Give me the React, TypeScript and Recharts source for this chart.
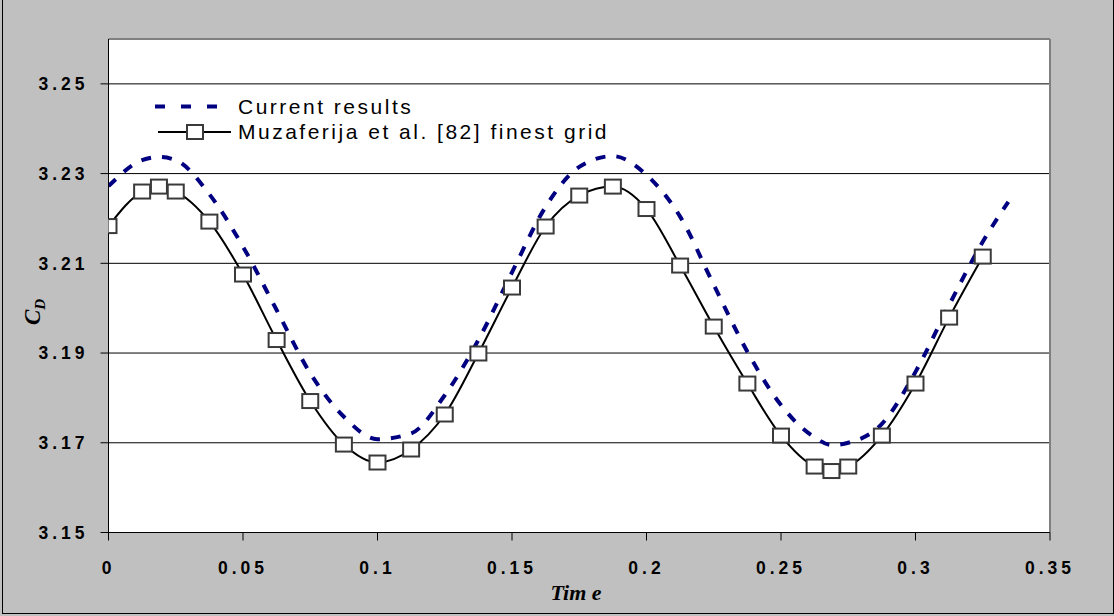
import { LineChart, Line, XAxis, YAxis, CartesianGrid, ReferenceLine } from 'recharts';

// time axis (s) and drag coefficient
const timeCurrent = [0, 0.0125, 0.01875, 0.025, 0.0375, 0.05, 0.0625, 0.075, 0.0875, 0.1, 0.1125, 0.125, 0.1375, 0.15, 0.1625, 0.175, 0.1875, 0.2, 0.2125, 0.225, 0.2375, 0.25, 0.2625, 0.26875, 0.275, 0.2875, 0.3, 0.3125, 0.325, 0.3345];
const cdCurrent = [3.2272, 3.233, 3.2337, 3.233, 3.2254, 3.2137, 3.1996, 3.1855, 3.1758, 3.1708, 3.1721, 3.1806, 3.1929, 3.208, 3.2226, 3.2315, 3.2339, 3.2297, 3.2204, 3.2052, 3.1903, 3.1784, 3.1712, 3.1695, 3.17, 3.1742, 3.1858, 3.2007, 3.2148, 3.2237];

const timeMuzaferija = [0, 0.0125, 0.01875, 0.025, 0.0375, 0.05, 0.0625, 0.075, 0.0875, 0.1, 0.1125, 0.125, 0.1375, 0.15, 0.1625, 0.175, 0.1875, 0.2, 0.2125, 0.225, 0.2375, 0.25, 0.2625, 0.26875, 0.275, 0.2875, 0.3, 0.3125, 0.325];
const cdMuzaferija = [3.2183, 3.226, 3.2271, 3.226, 3.2193, 3.2075, 3.1929, 3.1793, 3.1696, 3.1656, 3.1685, 3.1763, 3.1899, 3.2046, 3.2182, 3.2251, 3.2271, 3.2221, 3.2095, 3.1959, 3.1832, 3.1716, 3.1647, 3.1637, 3.1647, 3.1716, 3.1832, 3.1979, 3.2115];

const xTicks = [0, 0.05, 0.1, 0.15, 0.2, 0.25, 0.3, 0.35];
const yTicks = [3.15, 3.17, 3.19, 3.21, 3.23, 3.25];

const currentData = timeCurrent.map((t, i) => ({ t, cd: cdCurrent[i] }));
const muzData = timeMuzaferija.map((t, i) => ({ t, cd: cdMuzaferija[i] }));

const tickFont = { fontFamily: '"Liberation Sans", Arial, sans-serif', fontSize: 17.5, fontWeight: 700, fill: '#000', letterSpacing: 4 };
const legendFont = { fontFamily: '"Liberation Sans", Arial, sans-serif', fontSize: 21, color: '#000', letterSpacing: 2.5 };
const titleFont = { fontFamily: '"Liberation Serif", "Times New Roman", serif', fontStyle: 'italic' as const, fontWeight: 700 };

const SquareDot = (props: any) => {
  const { cx, cy, index } = props;
  if (cx == null || cy == null) return <g key={index} />;
  return <rect key={index} x={cx - 8} y={cy - 7} width={16} height={14} fill="#fff" stroke="#3a3a3a" strokeWidth={2} />;
};

const LegendBox = () => (
  <div style={{ position: 'absolute', left: 150, top: 94, ...legendFont }}>
    <div style={{ display: 'flex', alignItems: 'center', height: 25 }}>
      <svg width={88} height={25}>
        <line x1={5} x2={67} y1={12.5} y2={12.5} stroke="#000080" strokeWidth={4} strokeDasharray="10 16" />
      </svg>
      <span>Current results</span>
    </div>
    <div style={{ display: 'flex', alignItems: 'center', height: 25 }}>
      <svg width={88} height={25}>
        <line x1={8} x2={81} y1={13} y2={13} stroke="#000" strokeWidth={2} />
        <rect x={37} y={6} width={16} height={14} fill="#fff" stroke="#3a3a3a" strokeWidth={2} />
      </svg>
      <span>Muzaferija et al. [82] finest grid</span>
    </div>
  </div>
);

const AxisTitles = () => (
  <svg width={1114} height={616} style={{ position: 'absolute', left: 0, top: 0, pointerEvents: 'none' }}>
    <text x={576} y={600} textAnchor="middle" fontSize={22} fill="#000" style={{ ...titleFont, whiteSpace: 'pre' }}>
      Tim e
    </text>
    <g transform="translate(40 312) rotate(-90)">
      <text x={0} y={0} textAnchor="middle" fontSize={23} fill="#000" style={titleFont}>
        <tspan>C</tspan>
        <tspan fontSize={15} dy={5}>D</tspan>
      </text>
    </g>
  </svg>
);

export default function App() {
  return (
    <div style={{ position: 'absolute', left: 0, top: 0, width: 1114, height: 616, background: '#c0c0c0', overflow: 'hidden' }}>
      <div style={{ position: 'absolute', left: 2, top: -1, width: 1110, height: 613, border: '1px solid #000' }} />
      <LineChart width={1114} height={616} data={muzData} margin={{ top: 39, right: 64, bottom: 53.5, left: 28.5 }} style={{ position: 'absolute', left: 0, top: 0 }}>
        <CartesianGrid vertical={false} stroke="#000" strokeWidth={1} fill="#fff" horizontalValues={yTicks} />
        <ReferenceLine y={3.26} stroke="#808080" strokeWidth={2} />
        <ReferenceLine x={0.35} stroke="#808080" strokeWidth={2} />
        <XAxis
          dataKey="t"
          type="number"
          domain={[0, 0.35]}
          ticks={xTicks}
          tickFormatter={(v: number) => String(v)}
          height={30}
          stroke="#000"
          tickSize={8}
          tickMargin={21}
          tick={tickFont}
          allowDataOverflow
        />
        <YAxis
          type="number"
          domain={[3.15, 3.26]}
          ticks={yTicks}
          tickFormatter={(v: number) => v.toFixed(2)}
          width={80}
          stroke="#000"
          tickSize={8}
          tickMargin={12}
          tick={tickFont}
          allowDataOverflow
        />
        <Line data={currentData} dataKey="cd" type="monotone" stroke="#000080" strokeWidth={4} strokeDasharray="10 11" dot={false} isAnimationActive={false} />
        <Line data={muzData} dataKey="cd" type="monotone" stroke="#000" strokeWidth={2} dot={SquareDot} activeDot={false} isAnimationActive={false} />
      </LineChart>
      <LegendBox />
      <AxisTitles />
    </div>
  );
}
